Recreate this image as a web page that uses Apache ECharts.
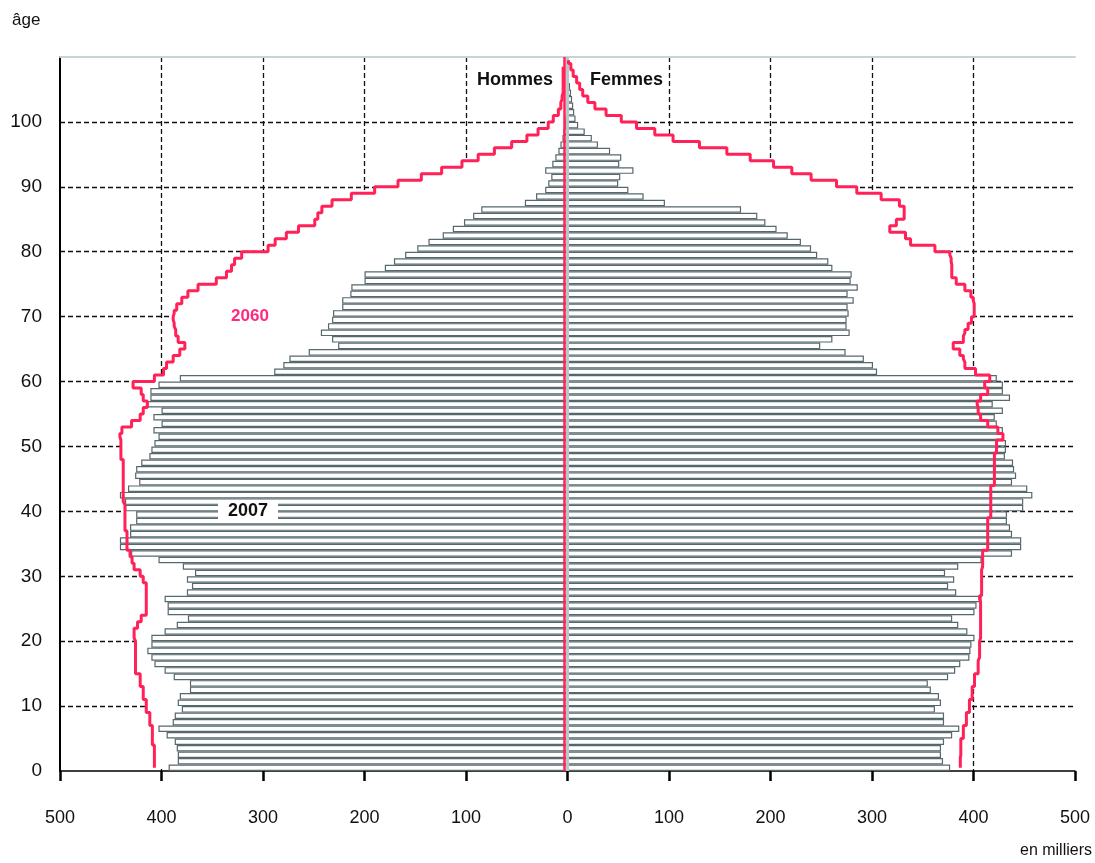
<!DOCTYPE html>
<html><head><meta charset="utf-8">
<script src="https://cdn.jsdelivr.net/npm/echarts@6/dist/echarts.min.js"></script>
<style>html,body{margin:0;padding:0;background:#fff}#c{width:1095px;height:863px}</style>
</head><body><div id="c"></div>
<script>
// ages 0..109 (categories)
const ages = [];
for (let a = 0; a <= 109; a++) ages.push(a);

const xTickLabels = [500,400,300,200,100,0,100,200,300,400,500];

// population 2007, thousands, by age 0..109
const men2007 = [393,384,384,385,387,395,403,389,387,380,
 384,382,372,372,388,397,407,410,414,410,
 410,397,385,374,394,394,397,375,370,375,
 367,379,403,430,441,441,431,431,425,425,
 436,436,441,433,422,426,425,420,412,410,
 407,403,408,400,408,400,414,411,411,403,
 382,289,280,274,255,226,232,243,236,232,
 231,222,222,214,213,200,200,180,171,160,
 148,137,123,113,102,93,85,42,31,22,
 19,16,22,15,12,9,7,5,4,3,
 2,1.5,1,0.7,0.5,0.3,0.2,0.1,0,0];

const women2007 = [377,370,368,368,371,379,386,371,371,362,
 368,366,358,355,375,382,387,396,397,398,
 401,394,385,379,401,403,408,383,375,381,
 372,385,408,438,447,447,438,436,433,433,
 449,449,458,453,438,442,440,439,431,432,
 432,430,429,423,421,429,419,436,429,429,
 423,305,301,292,274,249,261,278,275,275,
 277,276,282,276,286,279,280,261,257,246,
 240,230,217,206,195,187,171,96,75,60,
 50,52,65,51,53,42,30,24,17,10.5,
 7.9,6.6,5.6,4.5,3.5,2.5,1.5,1,0.5,0.3];

// projection 2060, thousands, by age
const men2060 = [407,407,407,407,409,409,409,411.5,411.5,415,
 415,418,418,421,421,425.6,425.6,425.6,425.6,425.6,
 427,427,423.6,420,415,415,415,415,415,418,
 421,427,429,431,434,434,434,436,436,436,
 436,437.7,437.7,437.7,437.7,437.7,437.7,437.7,440,440,
 440,441,439,429.5,421,418,414,418,420,428,
 407,398,395,388.5,382,377,383.6,386,387.5,388.5,
 387.5,385,380,374,364,346,336,331,328,321,
 295,288,277,265,249,246,242,232,213,190,
 167,144,124,104,88,72,55,40,29,19,
 14,9,6.6,5.3,4.3,4.3,4.3,4.3,4.3];

const women2060 = [387,387,387.5,387.5,387.5,390,390,393,393,396,
 396,398.7,398.7,401,401,404.6,404.6,406,406,406,
 407,407,407,407,407,407,406,408,408,408,
 408,409,409,409,414,414,414,414,414,417,
 417,417,417,417,420.6,420.6,420.6,420.6,420.6,422.7,
 422.7,429,424,414,407,404.6,403.6,407,414,411,
 416,402,391.5,390,386.5,380,390,391.5,394.7,398,
 400.7,400.7,399.7,397.4,391.5,383,378.6,378.6,378,376.7,
 362,338,333,317.5,324,331.7,331.7,327,309,285,
 265,240,221,203,180,157,130,104,86,68,
 53,38,27,20,15,12,9,5.6,3.3,1];

const FONT = '"Liberation Sans Narrow","Liberation Sans",Arial,sans-serif';
const RED = '#ff2157';
const BAR_BORDER = '#56686c';

const xGridColors = xTickLabels.map((v, i) => (i === 0 || i === 5 || i === 10) ? 'rgba(0,0,0,0)' : '#111');
const yGridColors = [];
for (let i = 0; i <= 11; i++) yGridColors.push((i === 0 || i === 11) ? 'rgba(0,0,0,0)' : '#111');

const chart = echarts.init(document.getElementById('c'));
const barStyle = { color: '#ffffff', borderColor: BAR_BORDER, borderWidth: 1.2 };

function areaSeries(name, data) {
  return { name: name, type: 'line', yAxisIndex: 0, step: 'middle', symbol: 'none', z: 1, silent: true,
    data: data, lineStyle: { width: 0, opacity: 0 }, areaStyle: { color: '#ffffff', opacity: 1 } };
}

chart.setOption({
  animation: false,
  backgroundColor: '#fff',
  grid: { left: 60, right: 20, top: 57, bottom: 92, containLabel: false },
  xAxis: [{
    type: 'value', min: -500, max: 500, interval: 100, position: 'bottom',
    axisLine: { show: true, onZero: false, lineStyle: { color: '#000', width: 1.5 } },
    axisTick: { show: true, length: 10, lineStyle: { color: '#000', width: 2.5 } },
    axisLabel: { margin: 38, color: '#111', fontSize: 18, fontFamily: FONT,
      formatter: (v) => String(xTickLabels[Math.round((v + 500) / 100)]) },
    splitLine: { show: true, lineStyle: { color: xGridColors, type: [5, 3], width: 1.3 } }
  }, {
    type: 'value', min: -500, max: 500, position: 'top',
    axisLine: { show: true, onZero: false, lineStyle: { color: '#c9d3d7', width: 2 } },
    axisTick: { show: false }, axisLabel: { show: false }, splitLine: { show: false }
  }],
  yAxis: [{
    type: 'category', data: ages, boundaryGap: true, show: false
  }, {
    type: 'value', min: 0, max: 110, interval: 10, position: 'left',
    axisLine: { show: true, onZero: false, lineStyle: { color: '#000', width: 2 } },
    axisTick: { show: false },
    axisLabel: { margin: 18, color: '#111', fontSize: 19, fontFamily: FONT,
      formatter: (v) => v <= 100 ? String(v) : '' },
    splitLine: { show: true, lineStyle: { color: yGridColors, type: [5, 3], width: 1.3 } }
  }],
  series: [
    areaSeries('Hommes 2060 fond', men2060.map(v => -v)),
    areaSeries('Femmes 2060 fond', women2060),
  {
    name: 'Hommes 2007', type: 'bar', yAxisIndex: 0, stack: 'p', silent: true, z: 2,
    barCategoryGap: '0%', data: men2007.map(v => -v), itemStyle: barStyle
  }, {
    name: 'Femmes 2007', type: 'bar', yAxisIndex: 0, stack: 'p', silent: true, z: 2,
    barCategoryGap: '0%', data: women2007, itemStyle: barStyle
  }, {
    name: 'Hommes 2060', type: 'line', yAxisIndex: 0, step: 'middle', symbol: 'none', z: 5,
    data: men2060.map(v => -v), lineStyle: { color: RED, width: 3 },
    markLine: { symbol: 'none', silent: true, label: { show: false }, animation: false,
      data: [{ xAxis: -3, lineStyle: { color: RED, width: 2.5, type: 'solid' } }] }
  }, {
    name: 'Femmes 2060', type: 'line', yAxisIndex: 0, step: 'middle', symbol: 'none', z: 5,
    data: women2060, lineStyle: { color: RED, width: 3 },
    markLine: { symbol: 'none', silent: true, label: { show: false }, animation: false,
      data: [{ xAxis: 0, lineStyle: { color: '#b9c6ca', width: 3, type: 'solid' } }] }
  }],
  graphic: [
    { type: 'text', left: 12, top: 12, style: { text: 'âge', font: '17px ' + FONT, fill: '#111' } },
    { type: 'text', x: 553, y: 80, style: { text: 'Hommes', font: 'bold 18px ' + FONT, fill: '#111', textAlign: 'right', textVerticalAlign: 'middle' }, z: 20 },
    { type: 'text', x: 590, y: 80, style: { text: 'Femmes', font: 'bold 18px ' + FONT, fill: '#111', textAlign: 'left', textVerticalAlign: 'middle' }, z: 20 },
    { type: 'text', x: 250, y: 316, style: { text: '2060', font: 'bold 17px ' + FONT, fill: '#ff2a7f', textAlign: 'center', textVerticalAlign: 'middle' }, z: 20 },
    { type: 'rect', shape: { x: 218, y: 500, width: 60, height: 22 }, style: { fill: '#fff' }, z: 19 },
    { type: 'text', x: 248, y: 511, style: { text: '2007', font: 'bold 18px ' + FONT, fill: '#111', textAlign: 'center', textVerticalAlign: 'middle' }, z: 20 },
    { type: 'text', x: 1092, y: 851, style: { text: 'en milliers', font: '16px ' + FONT, fill: '#111', textAlign: 'right', textVerticalAlign: 'middle' } }
  ]
});
</script></body></html>
